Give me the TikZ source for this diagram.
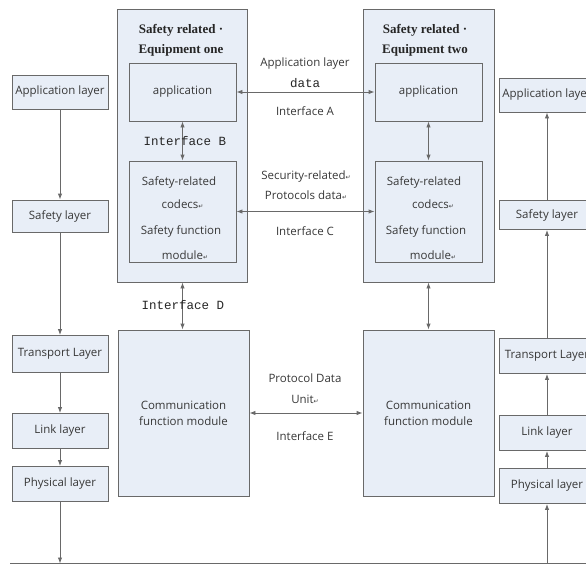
\documentclass[tikz,border=0pt]{standalone}
\usepackage{fontspec}
\setmainfont{Liberation Serif}
\setsansfont{Open Sans}
\setmonofont{Liberation Mono}
\newfontfamily\symfont{DejaVu Sans}
\usetikzlibrary{positioning, arrows.meta}

\definecolor{boxfill}{RGB}{232,238,247}
\definecolor{linegray}{RGB}{105,105,105}
\definecolor{txtgray}{RGB}{55,55,55}
\newcommand{\ret}{{\symfont\fontsize{6}{6}\selectfont ↵}}

\tikzset{
  layerbox/.style={draw=linegray, fill=boxfill, line width=0.9pt, minimum width=96, inner sep=0pt},
  modbox/.style={draw=linegray, fill=boxfill, line width=0.9pt, minimum width=107, inner sep=0pt, align=center},
  outerbox/.style={draw=linegray, fill=boxfill, line width=0.9pt, minimum width=131, inner sep=0pt, align=center},
  arr/.style={-{Latex[length=6pt,width=4.5pt]}, draw=linegray, line width=0.9pt},
  darr/.style={{Latex[length=6pt,width=4.5pt]}-{Latex[length=6pt,width=4.5pt]}, draw=linegray, line width=0.9pt},
  title/.style={font=\rmfamily\bfseries\fontsize{13}{14}\selectfont, text=black!85},
  iflabel/.style={font=\ttfamily\fontsize{12.5}{13}\selectfont, text=black!85},
  lbl/.style={inner sep=0pt}
}

\begin{document}
\begin{tikzpicture}[x=1pt, y=-1pt, font=\sffamily\fontsize{11.5}{13}\selectfont, text=txtgray]
\useasboundingbox (0,0) rectangle (586,565);
\clip (0,0) rectangle (586,565);

% left protocol stack
\node[layerbox, minimum height=34] (lapp) at (60,92)  {Application layer};
\node[layerbox, minimum height=32] (lsaf) at (60,216) {Safety layer};
\node[layerbox, minimum height=37] (ltra) at (60,354) {Transport Layer};
\node[layerbox, minimum height=35] (llnk) at (60,431) {Link layer};
\node[layerbox, minimum height=35] (lphy) at (60,484) {Physical layer};

% right protocol stack
\node[layerbox, minimum height=34] (rapp) at (547,95)  {Application layer};
\node[layerbox, minimum height=29] (rsaf) at (547,215) {Safety layer};
\node[layerbox, minimum height=35] (rtra) at (547,356) {Transport Layer};
\node[layerbox, minimum height=35] (rlnk) at (547,433) {Link layer};
\node[layerbox, minimum height=35] (rphy) at (547,486) {Physical layer};

% equipment one
\node[outerbox, minimum height=273, minimum width=130] (eq1) at (182,145.5) {};
\node[title] (t1a) at (181,30) {Safety related ·};
\node[title] (t1b) at (181,50) {Equipment one};
\node[modbox, minimum height=58]  (app1) at (182.5,92) {application};
\node[modbox, minimum height=101] (saf1) at (182.5,211.5) {};
\node[lbl] (s1a) at (179,182) {Safety-related};
\node[lbl] (s1b) at (182.5,204) {codecs\ret};
\node[lbl] (s1c) at (181,231) {Safety function};
\node[lbl] (s1d) at (185,255) {module\ret};
\node[outerbox, minimum height=166] (com1) at (183.5,413) {Communication\\[3pt]function module};

% equipment two
\node[outerbox, minimum height=273] (eq2) at (428.5,145.5) {};
\node[title] (t2a) at (425,30) {Safety related ·};
\node[title] (t2b) at (425,50) {Equipment two};
\node[modbox, minimum height=58]  (app2) at (428.5,92) {application};
\node[modbox, minimum height=101] (saf2) at (428.5,211.5) {};
\node[lbl] (s2a) at (424,182) {Safety-related};
\node[lbl] (s2b) at (433,204) {codecs\ret};
\node[lbl] (s2c) at (426,231) {Safety function};
\node[lbl] (s2d) at (433,255) {module\ret};
\node[outerbox, minimum height=166] (com2) at (428.5,413) {Communication\\[3pt]function module};

% bottom line
\coordinate (bl) at (10,563.5);
\coordinate (br) at (586,563.5);
\draw[linegray, line width=0.9pt] (bl) -- (br);

% stack arrows
\draw[arr] (lapp) -- (lsaf);
\draw[arr] (lsaf) -- (ltra);
\draw[arr] (ltra) -- (llnk);
\draw[arr] (llnk) -- (lphy);
\draw[arr] (lphy) -- (lphy |- bl);
\draw[arr] (rphy |- bl) -- (rphy);
\draw[arr] (rphy) -- (rlnk);
\draw[arr] (rlnk) -- (rtra);
\draw[arr] (rtra) -- (rsaf);
\draw[arr] (rsaf) -- (rapp);

% internal interfaces
\draw[darr] (app1) -- (saf1);
\draw[darr] (app2) -- (saf2);
\draw[darr] (eq1.south -| app1) -- (com1.north -| app1);
\draw[darr] (eq2) -- (com2);
\node[iflabel] (ifB) at (185,141) {Interface B};
\node[iflabel] (ifD) at (183,305) {Interface D};

% interfaces between the equipments
\draw[darr] (app1) -- (app2);
\draw[darr] (saf1) -- (saf2);
\draw[darr] (com1) -- (com2);
\node (ifAa) at (305,64) {Application layer};
\node[iflabel] (ifAb) at (305,83) {data};
\node (ifA) at (305,111) {Interface A};
\node (ifCa) at (306,177) {Security-related\ret};
\node (ifCb) at (306,195) {Protocols data\ret};
\node (ifC) at (305,231) {Interface C};
\node (ifEa) at (305,378) {Protocol Data};
\node (ifEb) at (305,399) {Unit\ret};
\node (ifE) at (305,436) {Interface E};
\end{tikzpicture}
\end{document}
